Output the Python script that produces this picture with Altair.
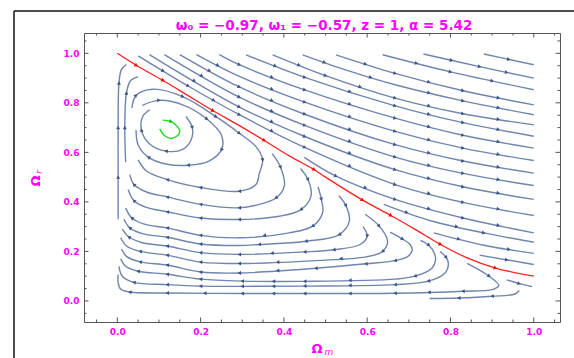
import math
import altair as alt
import pandas as pd

# ---- plot geometry -------------------------------------------------------
W, H = 476, 289
X_DOMAIN = [-0.08, 1.063]
Y_DOMAIN = [-0.085, 1.082]
SX = W / (X_DOMAIN[1] - X_DOMAIN[0])
SY = H / (Y_DOMAIN[1] - Y_DOMAIN[0])

MAGENTA = "#ff00ff"
STREAM = "#5f77a5"
ARROW = "#3a5487"

# ---- streamlines above the separatrix (flow towards larger Omega_m) -------
upper = {
    "u1": [(0.88, 0.997), (1.0, 0.954)],
    "u2": [(0.735, 0.997), (0.87, 0.946), (1.0, 0.90)],
    "u3": [(0.637, 0.994), (0.8, 0.925), (1.0, 0.853)],
    "u4": [(0.525, 0.994), (0.667, 0.919), (0.83, 0.849), (1.0, 0.792)],
    "u5": [(0.445, 0.994), (0.55, 0.932), (0.667, 0.873), (0.83, 0.808), (1.0, 0.752)],
    "u6": [(0.373, 0.994), (0.5, 0.91), (0.667, 0.819), (0.83, 0.756), (1.0, 0.711)],
    "u7": [(0.309, 0.994), (0.45, 0.903), (0.667, 0.788), (0.83, 0.72), (1.0, 0.665)],
    "u8": [(0.245, 0.995), (0.293, 0.954), (0.45, 0.852), (0.667, 0.738), (0.83, 0.669), (1.0, 0.617)],
    "u9": [(0.19, 0.995), (0.293, 0.907), (0.45, 0.803), (0.667, 0.685), (0.83, 0.617), (1.0, 0.567)],
    "u10": [(0.15, 0.995), (0.293, 0.864), (0.45, 0.754), (0.667, 0.631), (0.83, 0.565), (1.0, 0.516)],
    "u11": [(0.113, 0.995), (0.293, 0.823), (0.45, 0.709), (0.667, 0.581), (0.83, 0.515), (1.0, 0.466)],
    "u12": [(0.077, 0.995), (0.293, 0.783), (0.45, 0.664), (0.667, 0.53), (0.83, 0.461), (1.0, 0.41)],
    "u13": [(0.05, 0.99), (0.17, 0.868), (0.293, 0.752), (0.45, 0.62), (0.667, 0.47), (0.83, 0.398), (1.0, 0.345)],
    "u14": [(0.449, 0.58), (0.525, 0.504), (0.667, 0.41), (0.83, 0.335), (1.0, 0.275)],
    "u15": [(0.64, 0.39), (0.75, 0.325), (0.88, 0.275), (1.0, 0.237)],
    "u16": [(0.76, 0.275), (0.88, 0.225), (1.0, 0.192)],
    "u17": [(0.87, 0.185), (1.0, 0.147)],
    "r1": [(0.935, 0.085), (0.965, 0.07), (0.996, 0.058)],
}

# ---- streamlines below the separatrix (orbits round the centre) -----------
lower = {
    "k1": [(0.165, 0.745), (0.18, 0.70), (0.177, 0.65), (0.157, 0.612), (0.117, 0.605),
           (0.077, 0.635), (0.058, 0.69), (0.061, 0.745), (0.078, 0.772)],
    "k2": [(0.06, 0.79), (0.10, 0.81), (0.16, 0.79), (0.215, 0.735), (0.25, 0.67), (0.25, 0.61),
           (0.22, 0.565), (0.17, 0.548), (0.12, 0.552), (0.075, 0.58), (0.05, 0.63), (0.045, 0.69)],
    "k3": [(0.035, 0.78), (0.045, 0.83), (0.085, 0.855), (0.157, 0.825), (0.237, 0.744),
           (0.293, 0.677), (0.333, 0.623), (0.349, 0.569), (0.341, 0.515), (0.333, 0.47),
           (0.293, 0.443), (0.2, 0.458), (0.12, 0.49), (0.07, 0.525), (0.05, 0.57)],
    "h2": [(0.372, 0.595), (0.392, 0.54), (0.401, 0.464), (0.381, 0.416), (0.341, 0.39),
           (0.293, 0.376), (0.2, 0.39), (0.12, 0.42), (0.07, 0.44), (0.04, 0.47), (0.03, 0.51)],
    "h3": [(0.44, 0.535), (0.458, 0.49), (0.465, 0.423), (0.441, 0.369), (0.389, 0.342),
           (0.293, 0.329), (0.2, 0.335), (0.12, 0.36), (0.07, 0.378), (0.04, 0.405), (0.026, 0.45)],
    "h4": [(0.482, 0.46), (0.49, 0.41), (0.493, 0.356), (0.469, 0.302), (0.413, 0.275),
           (0.293, 0.255), (0.2, 0.265), (0.12, 0.295), (0.065, 0.31), (0.035, 0.335), (0.02, 0.375)],
    "h5": [(0.532, 0.425), (0.549, 0.385), (0.557, 0.322), (0.533, 0.268), (0.453, 0.241),
           (0.341, 0.228), (0.293, 0.224), (0.2, 0.23), (0.12, 0.257), (0.06, 0.272), (0.03, 0.295), (0.016, 0.33)],
    "h5b": [(0.59, 0.30), (0.60, 0.262), (0.583, 0.228), (0.52, 0.207), (0.45, 0.198),
            (0.293, 0.188), (0.2, 0.195), (0.12, 0.222), (0.06, 0.235), (0.028, 0.258), (0.012, 0.29)],
    "h6": [(0.595, 0.35), (0.629, 0.302), (0.649, 0.241), (0.637, 0.2), (0.597, 0.178),
           (0.477, 0.163), (0.293, 0.151), (0.2, 0.157), (0.12, 0.185), (0.055, 0.2), (0.022, 0.222), (0.008, 0.255)],
    "h7": [(0.655, 0.278), (0.685, 0.25), (0.703, 0.228), (0.708, 0.205), (0.698, 0.18), (0.667, 0.163),
           (0.597, 0.15), (0.477, 0.132), (0.293, 0.113), (0.2, 0.117), (0.12, 0.145), (0.055, 0.158),
           (0.022, 0.18), (0.01, 0.21)],
    "h8": [(0.728, 0.245), (0.748, 0.225), (0.762, 0.19), (0.764, 0.165), (0.756, 0.133), (0.715, 0.1),
           (0.667, 0.088), (0.45, 0.079), (0.3, 0.08), (0.2, 0.088), (0.12, 0.108), (0.05, 0.12),
           (0.02, 0.14), (0.008, 0.17)],
    "h9": [(0.775, 0.2), (0.79, 0.175), (0.795, 0.15), (0.787, 0.113), (0.747, 0.08), (0.667, 0.066),
           (0.45, 0.06), (0.3, 0.059), (0.2, 0.06), (0.12, 0.066), (0.04, 0.075), (0.012, 0.1), (0.004, 0.14)],
    "h10": [(0.84, 0.152), (0.893, 0.1), (0.916, 0.062), (0.9, 0.046), (0.83, 0.039), (0.667, 0.031),
            (0.45, 0.03), (0.3, 0.03), (0.12, 0.032), (0.03, 0.036), (0.008, 0.048), (0.002, 0.075), (0.002, 0.107)],
    "s1": [(0.965, 0.042), (0.955, 0.028), (0.9, 0.019), (0.82, 0.012), (0.75, 0.01)],
    "left1": [(0.002, 0.33), (0.002, 0.5), (0.002, 0.7), (0.004, 0.88), (0.01, 0.935), (0.022, 0.955)],
    "left2": [(0.02, 0.56), (0.018, 0.7), (0.022, 0.84), (0.032, 0.89), (0.05, 0.905)],
}

separatrix = [(0.0, 1.0), (0.046, 0.951), (0.11, 0.89), (0.17, 0.829), (0.23, 0.768), (0.29, 0.711),
              (0.353, 0.648), (0.413, 0.586), (0.473, 0.53), (0.5, 0.50), (0.589, 0.407),
              (0.657, 0.345), (0.715, 0.289), (0.776, 0.228), (0.84, 0.174), (0.908, 0.133), (1.0, 0.1)]

spiral = [(0.109, 0.73), (0.129, 0.724), (0.145, 0.703), (0.15, 0.685), (0.145, 0.668),
          (0.129, 0.656), (0.113, 0.668), (0.102, 0.695)]

major_ticks = [0.0, 0.2, 0.4, 0.6, 0.8, 1.0]
minor_ticks = [-0.05, 0.05, 0.1, 0.15, 0.25, 0.3, 0.35, 0.45, 0.5, 0.55, 0.65, 0.7, 0.75,
               0.85, 0.9, 0.95, 1.05]

title_text = "ω₀ = −0.97, ω₁ = −0.57, z = 1, α = 5.42"


def to_px(p):
    return ((p[0] - X_DOMAIN[0]) * SX, (Y_DOMAIN[1] - p[1]) * SY)


def heading(a, b):
    return math.degrees(math.atan2(b[1] - a[1], b[0] - a[0])) % 360


def line_table(lines):
    rows = []
    for name, pts in lines.items():
        for i, (x, y) in enumerate(pts):
            rows.append({"line": name, "i": i, "x": x, "y": y})
    return pd.DataFrame(rows)


def arrow_table(lines, spacing=27):
    rows = []
    for name, pts in lines.items():
        px = [to_px(p) for p in pts]
        cum = [0.0]
        for i in range(1, len(px)):
            cum.append(cum[-1] + math.dist(px[i - 1], px[i]))
        cands = []
        for i in range(1, len(pts) - 1):
            cands.append((cum[i], pts[i][0], pts[i][1], heading(px[i - 1], px[i + 1])))
        for i in range(len(pts) - 1):
            seg = cum[i + 1] - cum[i]
            if seg > 1.6 * spacing:
                cands.append((cum[i] + seg / 2, (pts[i][0] + pts[i + 1][0]) / 2,
                              (pts[i][1] + pts[i + 1][1]) / 2, heading(px[i], px[i + 1])))
        if len(pts) == 2:
            cands.append((cum[1] / 2, (pts[0][0] + pts[1][0]) / 2,
                          (pts[0][1] + pts[1][1]) / 2, heading(px[0], px[1])))
        cands.sort()
        last = -1e9
        for d, x, y, a in cands:
            if d - last >= spacing and d > 6 and cum[-1] - d > 6:
                rows.append({"x": x, "y": y, "ang": a})
                last = d
    return pd.DataFrame(rows)


xs = alt.Scale(domain=X_DOMAIN, nice=False, zero=False)
ys = alt.Scale(domain=Y_DOMAIN, nice=False, zero=False)

label_axis = dict(ticks=False, domain=False, grid=False, labelColor=MAGENTA,
                  labelFont="DejaVu Sans", labelFontWeight="bold", labelFontSize=9,
                  labelPadding=5, title=None, format=".1f", values=major_ticks)

streams = {**upper, **lower}

stream_layer = alt.Chart(line_table(streams)).mark_line(
    interpolate="catmull-rom", strokeWidth=1.4, color=STREAM, opacity=0.9
).encode(
    x=alt.X("x:Q", scale=xs, axis=alt.Axis(**label_axis)),
    y=alt.Y("y:Q", scale=ys, axis=alt.Axis(**label_axis)),
    detail="line:N",
    order="i:Q",
)

red_layer = alt.Chart(line_table({"sep": separatrix})).mark_line(
    interpolate="catmull-rom", strokeWidth=1.3, color="#ff2020"
).encode(x=alt.X("x:Q", scale=xs), y=alt.Y("y:Q", scale=ys), order="i:Q")

green_layer = alt.Chart(line_table({"spiral": spiral})).mark_line(
    interpolate="catmull-rom", strokeWidth=1.4, color="#1edc1e"
).encode(x=alt.X("x:Q", scale=xs), y=alt.Y("y:Q", scale=ys), order="i:Q")


def arrows(df, color, size):
    return alt.Chart(df).mark_point(shape="triangle-right", filled=True, size=size,
                                    color=color, opacity=1, strokeWidth=0).encode(
        x=alt.X("x:Q", scale=xs), y=alt.Y("y:Q", scale=ys),
        angle=alt.Angle("ang:Q", scale=None))


blue_arrows = arrows(arrow_table(streams), ARROW, 16)
red_arrows = arrows(arrow_table({"sep": separatrix}, spacing=30), "#ff0000", 18)
green_arrows = arrows(arrow_table({"spiral": spiral}, spacing=40), "#10c010", 16)


def tick_rules(values, length):
    df = pd.DataFrame({"v": values})
    base = alt.Chart(df).mark_rule(color="#555555", strokeWidth=1)
    return [
        base.encode(x=alt.X("v:Q", scale=xs), y=alt.value(H), y2=alt.value(H - length)),
        base.encode(x=alt.X("v:Q", scale=xs), y=alt.value(0), y2=alt.value(length)),
        base.encode(y=alt.Y("v:Q", scale=ys), x=alt.value(0), x2=alt.value(length)),
        base.encode(y=alt.Y("v:Q", scale=ys), x=alt.value(W), x2=alt.value(W - length)),
    ]


ticks = tick_rules(major_ticks, 4.5) + tick_rules(minor_ticks, 2.5)

one = pd.DataFrame({"t": [title_text]})
title_layer = alt.Chart(one).mark_text(
    font="DejaVu Sans", fontWeight="bold", fontSize=13.5, color=MAGENTA, baseline="middle"
).encode(text="t:N", x=alt.value(240), y=alt.value(-7))

omega = pd.DataFrame({"t": ["Ω"]})
x_title = alt.Chart(omega).mark_text(
    font="DejaVu Sans", fontWeight="bold", fontSize=13, color=MAGENTA, baseline="middle"
).encode(text="t:N", x=alt.value(233), y=alt.value(316))
x_sub = alt.Chart(pd.DataFrame({"t": ["m"]})).mark_text(
    font="DejaVu Sans", fontStyle="italic", fontSize=9, color=MAGENTA, baseline="middle"
).encode(text="t:N", x=alt.value(245), y=alt.value(319))

y_title = alt.Chart(omega).mark_text(
    font="DejaVu Sans", fontWeight="bold", fontSize=13, color=MAGENTA, baseline="middle", angle=270
).encode(text="t:N", x=alt.value(-48), y=alt.value(148))
y_sub = alt.Chart(pd.DataFrame({"t": ["r"]})).mark_text(
    font="DejaVu Sans", fontStyle="italic", fontSize=9, color=MAGENTA, baseline="middle", angle=270
).encode(text="t:N", x=alt.value(-45), y=alt.value(139))

# outer page frame
frame_left = alt.Chart(one).mark_rule(color="#111111", strokeWidth=1.5).encode(
    x=alt.value(-70), y=alt.value(-22), y2=alt.value(H + 60))
frame_top = alt.Chart(one).mark_rule(color="#111111", strokeWidth=1.5).encode(
    x=alt.value(-70), x2=alt.value(W + 40), y=alt.value(-22))

chart = alt.layer(
    stream_layer, red_layer, green_layer, blue_arrows, red_arrows, green_arrows,
    *ticks, title_layer, x_title, x_sub, y_title, y_sub, frame_left, frame_top,
).properties(
    width=W, height=H,
    autosize=alt.AutoSizeParams(type="none"),
    padding={"left": 84, "top": 33, "right": 14, "bottom": 36},
    background="white",
).configure_view(stroke="#555555", strokeWidth=1)

chart.save("out.html", embed_options={"renderer": "svg", "actions": False})
